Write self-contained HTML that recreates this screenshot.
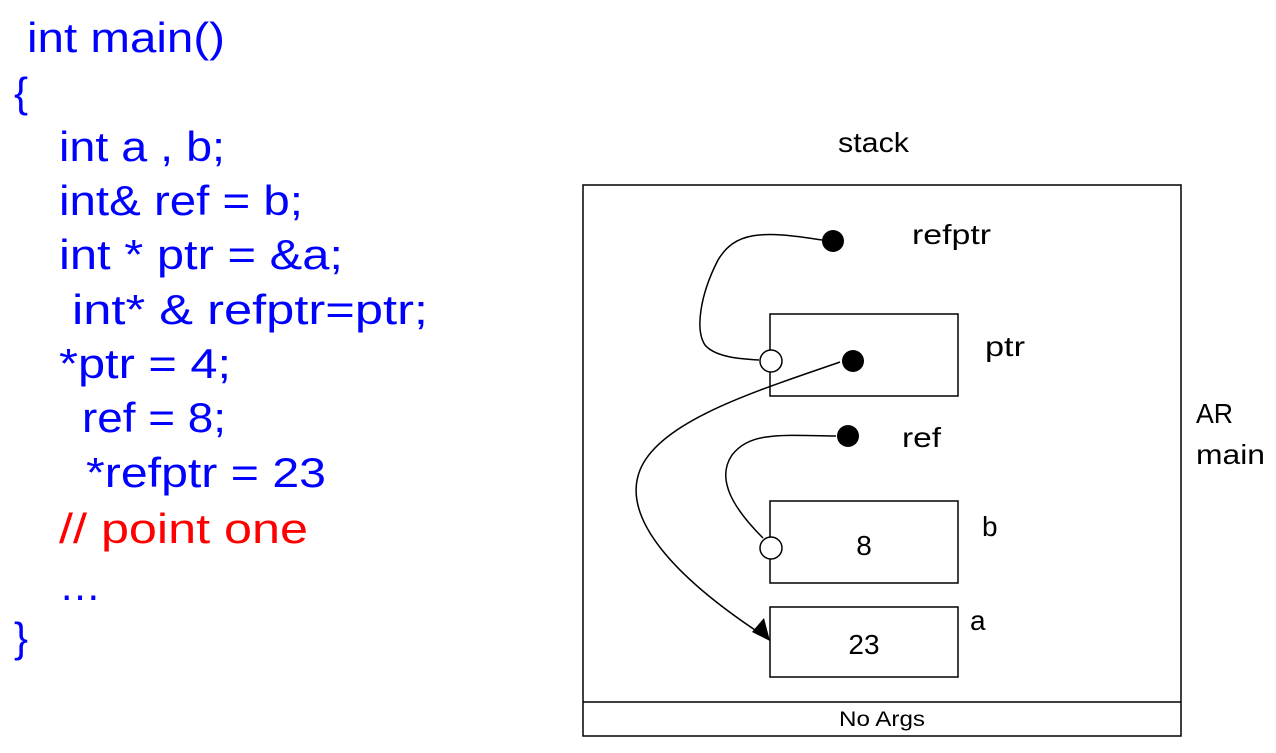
<!DOCTYPE html>
<html><head><meta charset="utf-8"><style>body{margin:0;background:#fff}svg{display:block}</style></head><body>
<svg width="1276" height="753" xmlns="http://www.w3.org/2000/svg">
<g font-family="Liberation Sans, sans-serif" font-size="42" fill="#0000ff">
<text x="27" y="52" textLength="198" lengthAdjust="spacingAndGlyphs">int main()</text>
<text x="14" y="107">{</text>
<text x="59" y="161" textLength="166" lengthAdjust="spacingAndGlyphs">int a , b;</text>
<text x="59" y="215" textLength="244" lengthAdjust="spacingAndGlyphs">int&amp; ref = b;</text>
<text x="59" y="269" textLength="284" lengthAdjust="spacingAndGlyphs">int * ptr = &amp;a;</text>
<text x="72" y="324" textLength="356" lengthAdjust="spacingAndGlyphs">int* &amp; refptr=ptr;</text>
<text x="59" y="378" textLength="172" lengthAdjust="spacingAndGlyphs">*ptr = 4;</text>
<text x="82" y="432" textLength="144" lengthAdjust="spacingAndGlyphs">ref = 8;</text>
<text x="86" y="487" textLength="240" lengthAdjust="spacingAndGlyphs">*refptr = 23</text>
<text x="59" y="543" fill="#ff0000" textLength="249" lengthAdjust="spacingAndGlyphs">// point one</text>
<text x="59" y="600">…</text>
<text x="14" y="652">}</text>
</g>
<g font-family="Liberation Sans, sans-serif" fill="#000" font-size="28">
<text x="838" y="152" textLength="71" lengthAdjust="spacingAndGlyphs">stack</text>
<text x="839" y="726" font-size="21" textLength="86" lengthAdjust="spacingAndGlyphs">No Args</text>
<text x="912" y="244" textLength="79" lengthAdjust="spacingAndGlyphs">refptr</text>
<text x="985" y="356" textLength="40" lengthAdjust="spacingAndGlyphs">ptr</text>
<text x="902" y="447" textLength="39" lengthAdjust="spacingAndGlyphs">ref</text>
<text x="982" y="536">b</text>
<text x="970" y="630">a</text>
<text x="1196" y="423" textLength="37" lengthAdjust="spacingAndGlyphs">AR</text>
<text x="1196" y="464" textLength="69" lengthAdjust="spacingAndGlyphs">main</text>
<text x="864" y="555" text-anchor="middle">8</text>
<text x="864" y="654" text-anchor="middle">23</text>
</g>
<g fill="none" stroke="#000" stroke-width="1.5">
<rect x="583" y="185" width="598" height="551"/>
<line x1="583" y1="702" x2="1181" y2="702"/>
<rect x="770" y="314" width="188" height="82"/>
<rect x="770" y="501" width="188" height="82"/>
<rect x="770" y="607" width="188" height="70"/>
<path d="M822,240 C760,230 735,232 718,260 C700,295 695,330 705,345 C715,357 740,359 759,360"/>
<path d="M840,362 C760,390 660,420 640,470 C620,520 680,580 758,632"/>
<path d="M836,436 C780,435 750,432 732,455 C715,480 735,510 763,538"/>
</g>
<polygon points="770,641 752,632 764,618" fill="#000"/>
<g fill="#000"><circle cx="833" cy="241" r="11"/><circle cx="853" cy="361" r="11"/><circle cx="848" cy="436" r="11"/></g>
<g fill="#fff" stroke="#000" stroke-width="1.5"><circle cx="771" cy="361" r="11"/><circle cx="771" cy="548" r="11"/></g>
</svg>
</body></html>
